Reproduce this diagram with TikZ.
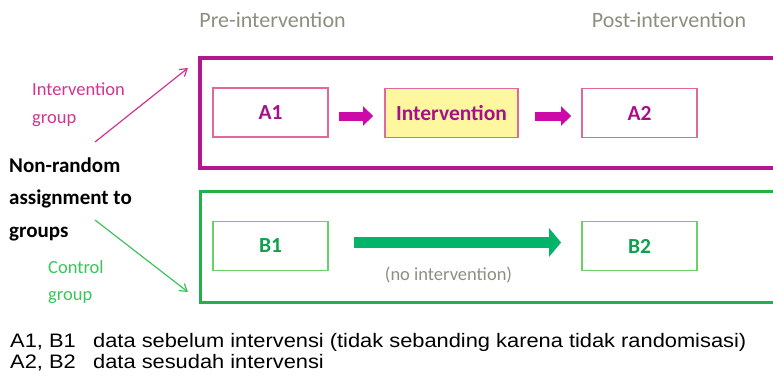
\documentclass[tikz,border=0pt]{standalone}
\usepackage{fontspec}
\setmainfont{Carlito}
\newfontfamily\notefont[FakeStretch=1.12]{Liberation Sans}
\usetikzlibrary{arrows.meta,calc}
\definecolor{grpMag}{HTML}{B3168F}
\definecolor{arrMag}{HTML}{CC0AA8}
\definecolor{boxPink}{HTML}{E0689A}
\definecolor{txtMag}{HTML}{A8108A}
\definecolor{lblPink}{HTML}{D03590}
\definecolor{fillYel}{HTML}{FFF7A0}
\definecolor{grpGreen}{HTML}{22B04A}
\definecolor{boxGreen}{HTML}{6AD06A}
\definecolor{txtGreen}{HTML}{10A050}
\definecolor{arrGreen}{HTML}{00B56A}
\definecolor{lblGreen}{HTML}{3CC45A}
\definecolor{phaseGray}{HTML}{8E8E80}
\tikzset{
  x=1pt, y=-1pt,
  phase/.style={text=phaseGray, font=\fontsize{22}{26}\selectfont, inner sep=0pt, anchor=base},
  magbox/.style={draw=boxPink, line width=1.8pt, minimum width=115pt, minimum height=49pt, inner sep=0pt, text=txtMag, font=\bfseries\fontsize{21.5}{24}\selectfont},
  grnbox/.style={draw=boxGreen, line width=1.8pt, minimum width=115pt, minimum height=49pt, inner sep=0pt, text=txtGreen, font=\bfseries\fontsize{21.5}{24}\selectfont},
  magarrow/.style={draw=arrMag, line width=9pt, -{Triangle[length=10pt, width=19pt]}},
  grnarrow/.style={draw=arrGreen, line width=11pt, -{Triangle[length=12pt, width=28pt]}},
  grouplbl/.style={anchor=base west, inner sep=0pt, font=\fontsize{18.5}{22}\selectfont},
  assignlbl/.style={anchor=base west, inner sep=0pt, font=\bfseries\fontsize{21}{24}\selectfont},
  note/.style={anchor=base west, inner sep=0pt, font=\notefont\fontsize{19.5}{22}\selectfont}
}
\begin{document}
\begin{tikzpicture}
\useasboundingbox (0,0) rectangle (773,378);
% phase headings
\node[phase] (pre) at (272.5,27) {Pre-intervention};
\node[phase] (post) at (669,27) {Post-intervention};
% group frames
\node[draw=grpMag, line width=3.5pt, minimum width=578pt, minimum height=110pt, inner sep=0pt] (igrp) at (489,113) {};
\node[draw=grpGreen, line width=3pt, minimum width=578pt, minimum height=111pt, inner sep=0pt] (cgrp) at (489,247) {};
% intervention group row
\node[magbox] (a1) at (270.5,112.5) {A1};
\node[magbox, fill=fillYel, minimum width=133pt] (int) at (451.5,113) {Intervention};
\node[magbox] (a2) at (639.5,113) {A2};
\draw[magarrow] ($(a1.east)+(10,3.5)$) -- ($(int.west)+(-11,3)$);
\draw[magarrow] ($(int.east)+(16,3)$) -- ($(a2.west)+(-10,3)$);
% control group row
\node[grnbox] (b1) at (270.5,246) {B1};
\node[grnbox] (b2) at (639.5,246) {B2};
\draw[grnarrow] ($(b1.east)+(25,-3.5)$) -- ($(b2.west)+(-20,-3.5)$);
\node[text=phaseGray, font=\fontsize{18.5}{22}\selectfont, inner sep=0pt, anchor=base] (noint) at (448.5,280) {(no intervention)};
% assignment labels
\node[grouplbl, text=lblPink] (ilbl1) at (32,95) {Intervention};
\node[grouplbl, text=lblPink] (ilbl2) at (32,123) {group};
\node[grouplbl, text=lblGreen] (clbl1) at (48,273) {Control};
\node[grouplbl, text=lblGreen] (clbl2) at (48,300) {group};
\node[assignlbl] (as1) at (9,172) {Non-random};
\node[assignlbl] (as2) at (9,204) {assignment to};
\node[assignlbl] (as3) at (9,237) {groups};
\coordinate (ps) at (95,142);
\coordinate (pe) at (188,68);
\coordinate (gs) at (95,220);
\coordinate (ge) at (188,292);
\draw[lblPink, line width=1.2pt, -{Straight Barb[length=7pt, width=9pt]}] (ps) -- (pe);
\draw[lblGreen, line width=1.2pt, -{Straight Barb[length=7pt, width=9pt]}] (gs) -- (ge);
% legend
\node[note] (k1) at (10,347) {A1, B1};
\node[note] (d1) at (93,347) {data sebelum intervensi (tidak sebanding karena tidak randomisasi)};
\node[note] (k2) at (10,368) {A2, B2};
\node[note] (d2) at (93,368) {data sesudah intervensi};
\end{tikzpicture}
\end{document}
